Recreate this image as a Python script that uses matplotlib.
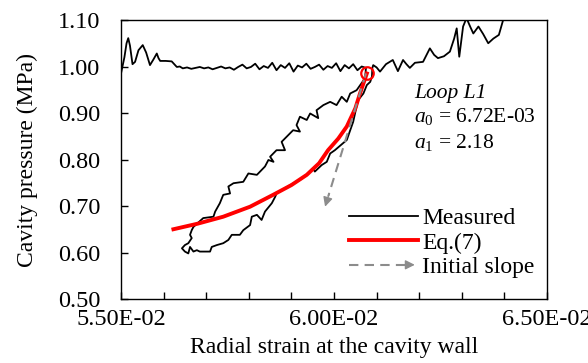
import matplotlib
matplotlib.use("Agg")
import matplotlib.pyplot as plt
import numpy as np
from matplotlib.patches import FancyArrowPatch
from matplotlib.legend_handler import HandlerBase
from matplotlib.lines import Line2D

plt.rcParams['font.family'] = ['Liberation Serif', 'DejaVu Serif']
plt.rcParams['mathtext.fontset'] = 'custom'
plt.rcParams['mathtext.rm'] = 'Liberation Serif'
plt.rcParams['mathtext.it'] = 'Liberation Serif:italic'

# measured curve in pieces
load_x = [0.05500, 0.05508, 0.05513, 0.05517, 0.05521, 0.05527, 0.05533, 0.05541, 0.05551,
          0.05559, 0.05568, 0.05576, 0.05584, 0.05588, 0.05592, 0.05605, 0.05619, 0.05631, 0.05638]
load_y = [0.985, 1.020, 1.050, 1.061, 1.045, 1.005, 1.010, 1.035, 1.046,
          1.030, 1.003, 1.015, 1.028, 1.018, 1.012, 1.012, 1.011, 0.999, 1.000]

flat_x = [0.05645, 0.05655, 0.05665, 0.05675, 0.05685, 0.05695, 0.05705, 0.05715, 0.05725, 0.05735,
          0.05745, 0.05755, 0.05765, 0.05775, 0.05785, 0.05795, 0.05805, 0.05815, 0.05825, 0.05835,
          0.05845, 0.05855, 0.05865, 0.05875, 0.05885, 0.05895, 0.05905, 0.05915, 0.05925, 0.05935,
          0.05945, 0.05955, 0.05965, 0.05975, 0.05985, 0.05995, 0.06005, 0.06015, 0.06025, 0.06035,
          0.06045, 0.06055, 0.06065, 0.06075]
flat_y = [0.996, 0.998, 0.995, 0.997, 0.999, 0.996, 0.998, 0.994, 0.997, 1.000,
          0.996, 0.998, 0.993, 0.999, 1.004, 0.996, 0.999, 1.006, 0.994, 1.001,
          0.997, 1.008, 0.992, 1.003, 0.997, 1.007, 0.989, 1.002, 0.998, 1.006,
          0.995, 0.999, 1.004, 0.993, 1.001, 0.997, 1.007, 0.990, 1.003, 0.996,
          1.005, 0.992, 1.000, 0.997]

unload_x = [0.06073, 0.06053, 0.06038, 0.06030, 0.06018, 0.06006, 0.05991, 0.05975, 0.05959, 0.05963,
            0.05944, 0.05936, 0.05920, 0.05912, 0.05920, 0.05904, 0.05889, 0.05877, 0.05885, 0.05865,
            0.05850, 0.05858, 0.05846, 0.05838, 0.05819, 0.05799, 0.05787, 0.05764, 0.05752, 0.05756,
            0.05740, 0.05732, 0.05721, 0.05717, 0.05693, 0.05670, 0.05666, 0.05662, 0.05666, 0.05658,
            0.05650, 0.05643, 0.05650, 0.05658, 0.05662, 0.05670]
unload_y = [0.975, 0.949, 0.942, 0.924, 0.935, 0.917, 0.924, 0.917, 0.906, 0.889,
            0.899, 0.885, 0.892, 0.874, 0.860, 0.863, 0.849, 0.838, 0.820, 0.820,
            0.806, 0.795, 0.799, 0.785, 0.767, 0.770, 0.752, 0.749, 0.742, 0.727,
            0.724, 0.706, 0.688, 0.677, 0.674, 0.655, 0.648, 0.638, 0.631, 0.620,
            0.616, 0.609, 0.602, 0.598, 0.612, 0.602]

reload_x = [0.05678, 0.05685, 0.05701, 0.05709, 0.05713, 0.05725, 0.05740, 0.05752, 0.05760, 0.05779,
            0.05787, 0.05803, 0.05807, 0.05819, 0.05830, 0.05838, 0.05854, 0.05862, 0.05865, 0.05885,
            0.05897, 0.05920, 0.05940, 0.05951, 0.05955, 0.05971, 0.05983, 0.05991, 0.06002, 0.06030,
            0.06038, 0.06045, 0.06053, 0.06057, 0.06069, 0.06077, 0.06085, 0.06089]
reload_y = [0.605, 0.602, 0.602, 0.602, 0.612, 0.616, 0.620, 0.627, 0.638, 0.638,
            0.648, 0.659, 0.677, 0.681, 0.670, 0.688, 0.706, 0.720, 0.727, 0.738,
            0.745, 0.756, 0.770, 0.781, 0.774, 0.788, 0.795, 0.813, 0.820, 0.842,
            0.863, 0.881, 0.914, 0.928, 0.942, 0.960, 0.967, 0.978]

after_x = [0.06090, 0.06092, 0.06100, 0.06108, 0.06122, 0.06138, 0.06150, 0.06162, 0.06170, 0.06178,
           0.06190, 0.06209, 0.06225, 0.06235, 0.06244, 0.06258, 0.06272, 0.06282, 0.06288, 0.06294,
           0.06303, 0.06311, 0.06320, 0.06327, 0.06339, 0.06350, 0.06362, 0.06374, 0.06387, 0.06397,
           0.06410]
after_y = [0.997, 1.003, 0.998, 0.989, 1.005, 1.014, 0.990, 1.014, 1.005, 0.997,
           1.008, 1.010, 1.039, 1.025, 1.018, 1.022, 1.032, 1.060, 1.082, 1.021,
           1.086, 1.104, 1.085, 1.071, 1.086, 1.070, 1.050, 1.060, 1.068, 1.100,
           1.130]

# Eq.(7) fit
eq_x = [0.05623, 0.05680, 0.05740, 0.05803, 0.05857, 0.05900, 0.05936, 0.05965, 0.05986, 0.06010,
        0.06030, 0.06050, 0.06061, 0.06077]
eq_y = [0.650, 0.662, 0.677, 0.6985, 0.724, 0.745, 0.767, 0.792, 0.820, 0.845,
        0.871, 0.910, 0.942, 0.985]

# initial slope arrow: start (loop point) and tip
slope_x = [0.06075, 0.05979]
slope_y = [0.985, 0.6985]

loop_pt = (0.06077, 0.985)

meas_x = load_x + flat_x + unload_x + reload_x + after_x
meas_y = load_y + flat_y + unload_y + reload_y + after_y

GRAY = '#8c8c8c'


class ArrowHandler(HandlerBase):
    def create_artists(self, legend, orig_handle, xdescent, ydescent, width, height, fontsize, trans):
        y = height / 2 - ydescent
        line = Line2D([-xdescent, -xdescent + width - 8], [y, y], color=GRAY, lw=1.5,
                      dashes=(4.5, 3.0), transform=trans)
        head = FancyArrowPatch((-xdescent + width - 10, y), (-xdescent + width, y),
                               arrowstyle='-|>', mutation_scale=14, color=GRAY, lw=1.0,
                               transform=trans)
        return [line, head]


fig = plt.figure(figsize=(5.88, 3.63), dpi=100)
ax = fig.add_axes([0.2058, 0.1763, 0.7245, 0.7686])

ax.plot(meas_x, meas_y, color='black', lw=1.3, zorder=3)
ax.plot(eq_x, eq_y, color='#ff0000', lw=2.8, zorder=4)

# dashed shaft, then a solid head at the tip
fx = slope_x[0] + 0.92 * (slope_x[1] - slope_x[0])
fy = slope_y[0] + 0.92 * (slope_y[1] - slope_y[0])
ax.plot([slope_x[0], fx], [slope_y[0], fy], color=GRAY, lw=1.5, dashes=(4.5, 3.0), zorder=5)
ax.annotate('', xy=(slope_x[1], slope_y[1]),
            xytext=(slope_x[0] + 0.9 * (slope_x[1] - slope_x[0]), slope_y[0] + 0.9 * (slope_y[1] - slope_y[0])),
            arrowprops=dict(arrowstyle='-|>', color=GRAY, lw=1.0, mutation_scale=14,
                            shrinkA=0, shrinkB=0), zorder=5)
ax.plot([loop_pt[0]], [loop_pt[1]], 'o', ms=9, mfc='none', mec='#ff0000', mew=1.6, zorder=6)

ax.set_xlim(0.055, 0.065)
ax.set_ylim(0.5, 1.1)
ax.set_xticks([0.055, 0.060, 0.065])
ax.set_xticks(np.arange(0.055, 0.0651, 0.001), minor=True)
ax.set_yticks(np.arange(0.5, 1.101, 0.1))
ax.xaxis.set_major_formatter(plt.FuncFormatter(lambda v, p: '%.2E' % v))
ax.yaxis.set_major_formatter(plt.FuncFormatter(lambda v, p: '%.2f' % v))
ax.tick_params(axis='both', which='both', direction='in', labelsize=17.5, length=5, width=1.0)
ax.tick_params(axis='x', which='major', pad=7.5)
ax.tick_params(axis='y', which='major', pad=15)
ax.tick_params(axis='y', which='minor', left=False)
for s in ax.spines.values():
    s.set_linewidth(1.0)

ax.set_xlabel('Radial strain at the cavity wall', fontsize=17, labelpad=5)
ax.set_ylabel('Cavity pressure (MPa)', fontsize=17, labelpad=14)

ax.text(0.688, 0.7215, 'Loop L1', transform=ax.transAxes, fontsize=15.5, style='italic')
ax.text(0.688, 0.634, r'$a_\mathit{0}$ = 6.72E-03', transform=ax.transAxes, fontsize=15.5)
ax.text(0.688, 0.541, r'$a_\mathit{1}$ = 2.18', transform=ax.transAxes, fontsize=15.5)

h_meas = Line2D([], [], color='black', lw=1.3)
h_eq = Line2D([], [], color='#ff0000', lw=2.8)
h_slope = object()
leg = ax.legend([h_meas, h_eq, h_slope], ['Measured', 'Eq.(7)', 'Initial slope'],
                handler_map={object: ArrowHandler()}, loc='lower right', frameon=False,
                fontsize=17, handlelength=2.9, handletextpad=0.2, labelspacing=0.12,
                bbox_to_anchor=(0.971, 0.075), borderaxespad=0.0, borderpad=0.0)

fig.savefig('out.png', dpi=100)
